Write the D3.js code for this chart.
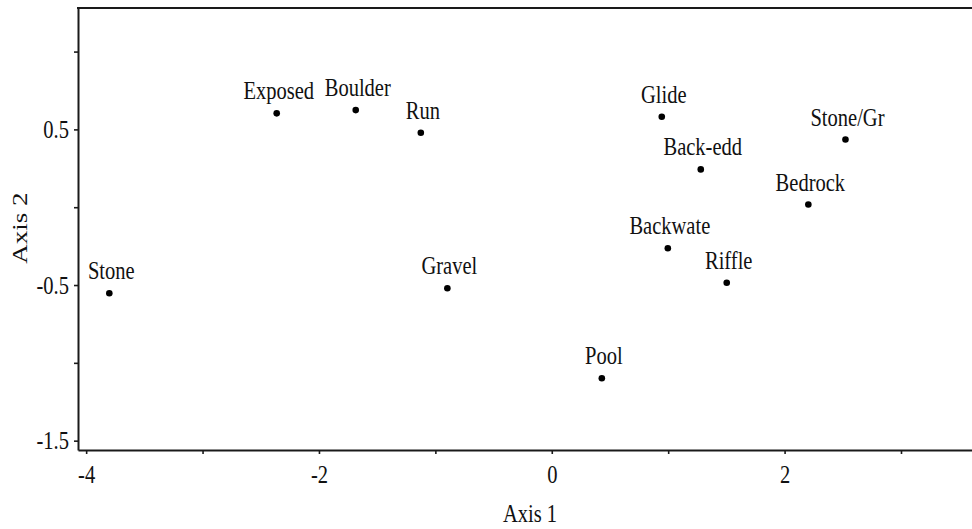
<!DOCTYPE html>
<html>
<head>
<meta charset="utf-8">
<script src="https://cdn.jsdelivr.net/npm/d3@7"></script>
<style>
  html, body { margin: 0; padding: 0; background: #fff; }
  svg { display: block; }
</style>
</head>
<body>
<svg id="chart" width="972" height="529"></svg>
<script>
// ---- data ----
const sites = ["Exposed", "Boulder", "Run", "Glide", "Stone/Gr", "Back-edd", "Bedrock", "Backwate", "Riffle", "Stone", "Gravel", "Pool"];
const axis1 = [-2.363, -1.684, -1.125, 0.945, 2.523, 1.280, 2.204, 0.997, 1.503, -3.801, -0.897, 0.430];
const axis2 = [0.603, 0.624, 0.478, 0.581, 0.435, 0.243, 0.017, -0.264, -0.485, -0.553, -0.521, -1.099];
const xTicks = [-4, -3, -2, -1, 0, 1, 2, 3];
const xTickLabels = ["-4", "", "-2", "", "0", "", "2", ""];
const yTicks = [-1.5, -1.0, -0.5, 0, 0.5, 1.0];
const yTickLabels = ["-1.5", "", "-0.5", "", "0.5", ""];
const xTitle = "Axis 1";
const yTitle = "Axis 2";

// ---- layout ----
const plotLeft = 78, plotRight = 972, plotTop = 8, plotBottom = 450;
const squeeze = 0.79;
const fs = 26;
const serif = "'Liberation Serif', 'Times New Roman', serif";

const svg = d3.select("#chart");
const x = d3.scaleLinear().domain([-4.07, 3.61]).range([plotLeft, plotRight]);
const y = d3.scaleLinear().domain([-1.56, 1.28]).range([plotBottom, plotTop]);

const ink = "#1a1a1a";

// bottom axis
const gx = svg.append("g")
  .attr("transform", `translate(0,${plotBottom})`)
  .call(d3.axisBottom(x).tickValues(xTicks)
    .tickFormat((d, i) => xTickLabels[i])
    .tickSize(4).tickSizeOuter(0).tickPadding(11));
gx.attr("font-family", serif).attr("font-size", fs);
gx.select(".domain").attr("stroke", ink).attr("stroke-width", 2);
gx.selectAll(".tick line").attr("stroke", ink).attr("stroke-width", 1.6);
gx.selectAll(".tick text")
  .attr("fill", "#111")
  .attr("transform", `scale(${squeeze},1)`);

// left axis
const gy = svg.append("g")
  .attr("transform", `translate(${plotLeft},0)`)
  .call(d3.axisLeft(y).tickValues(yTicks)
    .tickFormat((d, i) => yTickLabels[i])
    .tickSize(4).tickSizeOuter(0).tickPadding(5));
gy.attr("font-family", serif).attr("font-size", fs);
gy.select(".domain").attr("stroke", ink).attr("stroke-width", 2);
gy.selectAll(".tick line").attr("stroke", ink).attr("stroke-width", 1.6);
gy.selectAll(".tick text")
  .attr("fill", "#111")
  .attr("x", -9 / squeeze)
  .attr("transform", `scale(${squeeze},1)`);

// top frame line
svg.append("line")
  .attr("x1", x.range()[0] - 1).attr("x2", x.range()[1])
  .attr("y1", y.range()[1]).attr("y2", y.range()[1])
  .attr("stroke", ink).attr("stroke-width", 2);

// points
const pts = sites.map((s, i) => ({ name: s, a1: axis1[i], a2: axis2[i] }));
svg.append("g").selectAll("circle")
  .data(pts).join("circle")
  .attr("cx", d => x(d.a1))
  .attr("cy", d => y(d.a2))
  .attr("r", 3.3)
  .attr("fill", "#000");

svg.append("g")
  .attr("font-family", serif)
  .attr("font-size", fs)
  .attr("fill", "#111")
  .selectAll("text")
  .data(pts).join("text")
  .attr("text-anchor", "middle")
  .attr("transform", d => `translate(${x(d.a1) + 2},${y(d.a2) - 14}) scale(${squeeze},1)`)
  .text(d => d.name);

// axis titles
svg.append("text")
  .attr("font-family", serif)
  .attr("fill", "#111")
  .attr("text-anchor", "middle")
  .attr("font-size", fs)
  .attr("transform", `translate(530,522) scale(${squeeze},1)`)
  .text(xTitle);

svg.append("text")
  .attr("font-family", serif)
  .attr("fill", "#111")
  .attr("text-anchor", "middle")
  .attr("font-size", 27)
  .attr("transform", `translate(27,228) rotate(-90) scale(1,${squeeze})`)
  .text(yTitle);
</script>
</body>
</html>
